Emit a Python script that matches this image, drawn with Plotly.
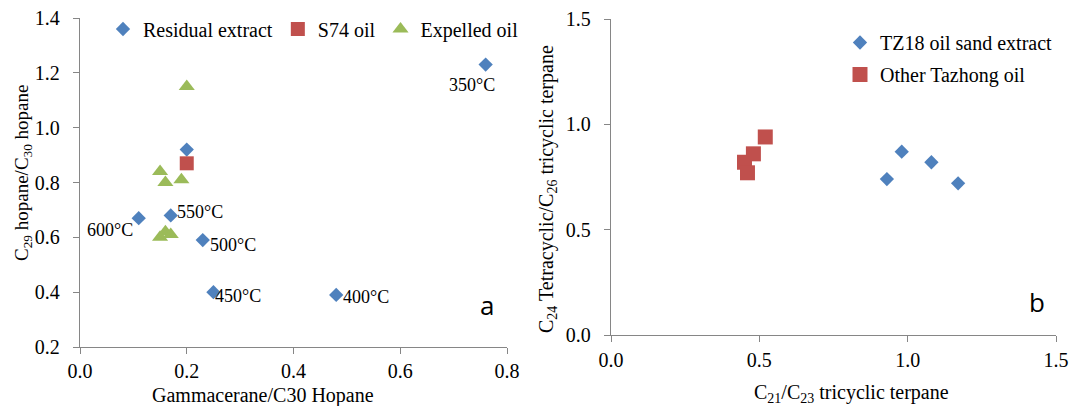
import plotly.graph_objects as go

# ---- Panel a: hopane ratios ----
resid_x = [0.76, 0.48, 0.25, 0.23, 0.17, 0.11, 0.20]
resid_y = [1.23, 0.39, 0.40, 0.59, 0.68, 0.67, 0.92]
resid_lbl = ["350°C", "400°C", "450°C", "500°C", "550°C", "600°C", ""]

s74_x = [0.20]
s74_y = [0.87]

expel_x = [0.20, 0.15, 0.16, 0.19, 0.15, 0.16, 0.17]
expel_y = [1.15, 0.84, 0.80, 0.81, 0.60, 0.62, 0.61]

# ---- Panel b: tricyclic / tetracyclic terpanes ----
tz18_x = [0.93, 0.98, 1.08, 1.17]
tz18_y = [0.74, 0.87, 0.82, 0.72]

tazhong_x = [0.52, 0.48, 0.45, 0.46]
tazhong_y = [0.94, 0.86, 0.82, 0.77]

a_xticks = [0.0, 0.2, 0.4, 0.6, 0.8]
a_yticks = [0.2, 0.4, 0.6, 0.8, 1.0, 1.2, 1.4]
b_ticks = [0.0, 0.5, 1.0, 1.5]

BLUE = "#4F81BD"
RED = "#C0504D"
GREEN = "#9BBB59"
AXIS = "#868686"
SERIF = "Liberation Serif, Times New Roman, serif"

W, H = 1069, 406

fig = go.Figure()

fig.add_trace(go.Scatter(
    x=resid_x, y=resid_y, mode="markers", name="Residual extract",
    marker=dict(symbol="diamond", size=11, color=BLUE),
    xaxis="x", yaxis="y", legend="legend"))
fig.add_trace(go.Scatter(
    x=s74_x, y=s74_y, mode="markers", name="S74 oil",
    marker=dict(symbol="square", size=14, color=RED),
    xaxis="x", yaxis="y", legend="legend"))
fig.add_trace(go.Scatter(
    x=expel_x, y=expel_y, mode="markers", name="Expelled oil",
    marker=dict(symbol="triangle-up", size=14, color=GREEN),
    xaxis="x", yaxis="y", legend="legend"))

fig.add_trace(go.Scatter(
    x=tz18_x, y=tz18_y, mode="markers", name="TZ18 oil sand extract",
    marker=dict(symbol="diamond", size=11, color=BLUE),
    xaxis="x2", yaxis="y2", legend="legend2", legendgroup="g1"))
fig.add_trace(go.Scatter(
    x=tazhong_x, y=tazhong_y, mode="markers", name="Other Tazhong oil",
    marker=dict(symbol="square", size=15, color=RED),
    xaxis="x2", yaxis="y2", legend="legend2", legendgroup="g2"))

# temperature labels next to the residual-extract points
label_pos = {
    "350°C": dict(xanchor="center", yanchor="middle", xshift=-14, yshift=-20),
    "400°C": dict(xanchor="left", yanchor="middle", xshift=5, yshift=-2),
    "450°C": dict(xanchor="left", yanchor="middle", xshift=0, yshift=-4),
    "500°C": dict(xanchor="left", yanchor="middle", xshift=5, yshift=-5),
    "550°C": dict(xanchor="left", yanchor="middle", xshift=4, yshift=3),
    "600°C": dict(xanchor="right", yanchor="middle", xshift=-4, yshift=-12),
}
annotations = []
for xv, yv, lbl in zip(resid_x, resid_y, resid_lbl):
    if not lbl:
        continue
    annotations.append(dict(
        x=xv, y=yv, xref="x", yref="y", text=lbl, showarrow=False,
        font=dict(family=SERIF, size=18, color="#000000"), **label_pos[lbl]))


def paper_text(px, py, text, font, angle=0):
    return dict(x=px / W, y=1 - py / H, xref="paper", yref="paper",
                xanchor="center", yanchor="middle", text=text,
                showarrow=False, textangle=angle, font=font)


# panel letters
letter_font = dict(family="Open Sans", size=26, color="#000000")
annotations.append(paper_text(487, 305, "a", letter_font))
annotations.append(paper_text(1037, 302, "b", letter_font))

# axis titles
x_title_font = dict(family=SERIF, size=20, color="#000000")
annotations += [
    paper_text(263, 395, "Gammacerane/C30 Hopane", x_title_font),
    paper_text(23, 173, "C<sub>29</sub> hopane/C<sub>30</sub> hopane",
               dict(family=SERIF, size=19, color="#000000"), -90),
    paper_text(851, 393, "C<sub>21</sub>/C<sub>23</sub> tricyclic terpane", x_title_font),
    paper_text(548, 189, "C<sub>24</sub> Tetracyclic/C<sub>26</sub> tricyclic terpane",
               dict(family=SERIF, size=20, color="#000000"), -90),
]

axis_common = dict(
    showgrid=False, zeroline=False, showline=True, linecolor=AXIS, linewidth=1.3,
    ticks="outside", ticklen=6, tickcolor=AXIS, tickwidth=1.3,
    tickfont=dict(family=SERIF, size=20, color="#000000"),
    tickformat=".1f", automargin=False,
)

fig.update_layout(
    width=W, height=H,
    margin=dict(l=0, r=0, t=0, b=0, pad=0, autoexpand=False),
    paper_bgcolor="white", plot_bgcolor="white",
    font=dict(family=SERIF, size=18, color="#000000"),
    showlegend=True,
    xaxis=dict(domain=[80 / W, 507 / W], range=[0, 0.8], tickvals=a_xticks,
               anchor="y", **axis_common),
    yaxis=dict(domain=[1 - 347 / H, 1 - 18 / H], range=[0.2, 1.4], tickvals=a_yticks,
               anchor="x", ticklabelstandoff=9, **axis_common),
    xaxis2=dict(domain=[611 / W, 1056 / W], range=[0, 1.5], tickvals=b_ticks,
                anchor="y2", ticklabelstandoff=1, **axis_common),
    yaxis2=dict(domain=[1 - 335 / H, 1 - 19 / H], range=[0, 1.5], tickvals=b_ticks,
                anchor="x2", ticklabelstandoff=9, **axis_common),
    legend=dict(orientation="h", x=103 / W, y=1 - 9.5 / H, xanchor="left", yanchor="top",
                font=dict(family=SERIF, size=20, color="#000000"),
                bgcolor="rgba(0,0,0,0)", itemwidth=30, tracegroupgap=0),
    legend2=dict(orientation="v", x=840 / W, y=1 - 23 / H, xanchor="left", yanchor="top",
                 font=dict(family=SERIF, size=20, color="#000000"),
                 bgcolor="rgba(0,0,0,0)", itemwidth=30, tracegroupgap=3),
    annotations=annotations,
)

# the page body keeps no default margin so the figure sits at the window's corner
fig.write_html("out.html", post_script="document.body.style.margin = '0';")
